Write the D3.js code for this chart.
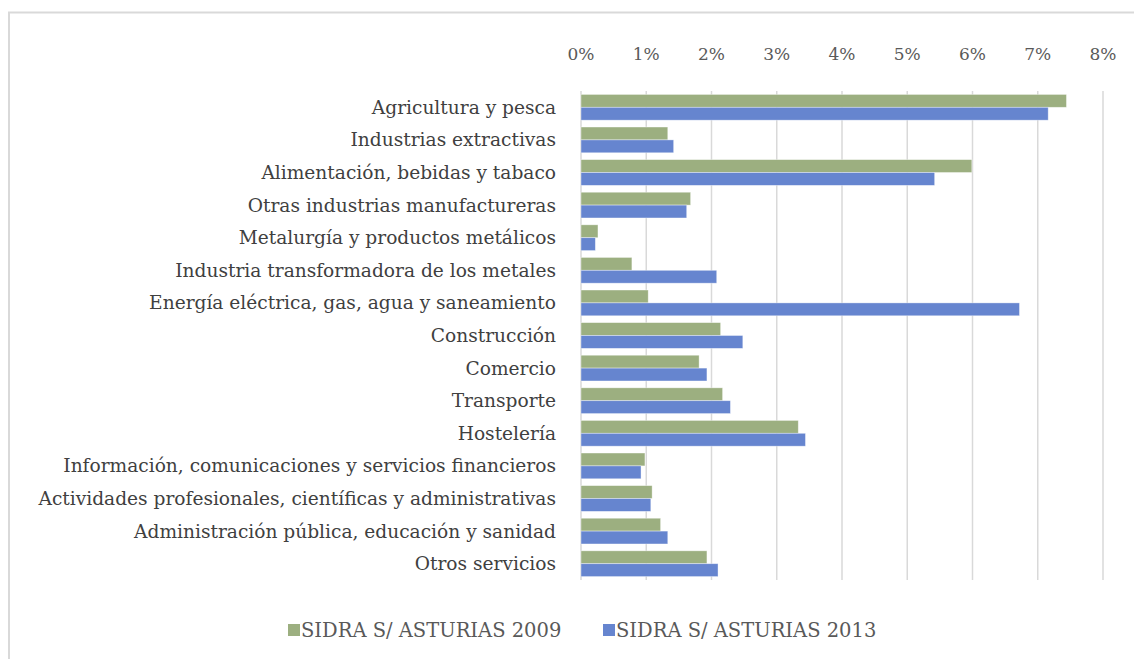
<!DOCTYPE html>
<html>
<head>
<meta charset="utf-8">
<script src="https://cdn.jsdelivr.net/npm/d3@7"></script>
<style>
    body { margin: 0; background: #fff; }
    text { font-family: "Palatino Linotype", "Book Antiqua", Palatino, "DejaVu Serif", serif; }
</style>
</head>
<body>
<div id="barChart"></div>
<script>
// categories (top to bottom)
const categories = [
    "Agricultura y pesca",
    "Industrias extractivas",
    "Alimentación, bebidas y tabaco",
    "Otras industrias manufactureras",
    "Metalurgía y productos metálicos",
    "Industria transformadora de los metales",
    "Energía eléctrica, gas, agua y saneamiento",
    "Construcción",
    "Comercio ",
    "Transporte ",
    "Hostelería",
    "Información, comunicaciones y servicios financieros",
    "Actividades profesionales, científicas y administrativas",
    "Administración pública, educación y sanidad",
    "Otros servicios"
];

// values in %
const values2009 = [7.44, 1.33, 5.99, 1.68, 0.26, 0.78, 1.03, 2.14, 1.81, 2.17, 3.33, 0.98, 1.09, 1.22, 1.93];
const values2013 = [7.16, 1.42, 5.42, 1.62, 0.22, 2.08, 6.72, 2.48, 1.93, 2.29, 3.44, 0.92, 1.07, 1.33, 2.10];

const seriesNames = ["SIDRA S/ ASTURIAS 2009", "SIDRA S/ ASTURIAS 2013"];
const seriesColors = ["#9caf80", "#6685cf"];
const xTicks = [0, 1, 2, 3, 4, 5, 6, 7, 8];

const W = 1134, H = 659;
const plotLeft = 581, plotRight = 1103, plotTop = 91, plotBottom = 580;

var svg = d3.select("#barChart").append("svg")
    .attr("width", W)
    .attr("height", H);

// outer frame
svg.append("rect")
    .attr("x", 9).attr("y", 12.5)
    .attr("width", 1140).attr("height", 660)
    .attr("fill", "none")
    .attr("stroke", "#d9d9d9")
    .attr("stroke-width", 2);

var x = d3.scaleLinear().domain([0, 8]).range([plotLeft, plotRight]);
var y = d3.scaleBand().domain(categories).range([plotTop, plotBottom]).paddingInner(0.21).paddingOuter(0.105);
var ySub = d3.scaleBand().domain([0, 1]).range([0, y.bandwidth()]);

// grid
svg.append("g")
    .attr("class", "grid")
    .selectAll("line")
    .data(xTicks)
    .join("line")
    .attr("x1", d => x(d)).attr("x2", d => x(d))
    .attr("y1", plotTop).attr("y2", plotBottom)
    .attr("stroke", "#d9d9d9")
    .attr("stroke-width", 1.5);

// top axis labels
svg.append("g")
    .selectAll("text")
    .data(xTicks)
    .join("text")
    .attr("x", d => x(d))
    .attr("y", 54)
    .attr("dy", "0.35em")
    .attr("text-anchor", "middle")
    .attr("fill", "#595959")
    .style("font-size", "17px")
    .text(d => d + "%");

// bars
const series = [values2009, values2013];
series.forEach((vals, si) => {
    svg.append("g")
        .selectAll("rect")
        .data(vals)
        .join("rect")
        .attr("x", x(0))
        .attr("y", (d, i) => y(categories[i]) + ySub(si))
        .attr("width", d => x(d) - x(0))
        .attr("height", ySub.bandwidth())
        .attr("fill", seriesColors[si])
        .attr("stroke", "#ffffff")
        .attr("stroke-opacity", 0.5)
        .attr("stroke-width", 0.75);
});

// category labels
svg.append("g")
    .selectAll("text")
    .data(categories)
    .join("text")
    .attr("x", 556)
    .attr("y", d => y(d) + y.bandwidth() / 2)
    .attr("dy", "0.35em")
    .attr("text-anchor", "end")
    .attr("fill", "#404040")
    .style("font-size", "18.6px")
    .text(d => d);

// legend
const legendX = [288, 603];
const legend = svg.append("g");
seriesNames.forEach((name, i) => {
    legend.append("rect")
        .attr("x", legendX[i]).attr("y", 624)
        .attr("width", 12).attr("height", 12)
        .attr("fill", seriesColors[i]);
    legend.append("text")
        .attr("x", legendX[i] + 13)
        .attr("y", 630)
        .attr("dy", "0.35em")
        .attr("fill", "#595959")
        .style("font-size", "19.5px")
        .text(name);
});
</script>
</body>
</html>
